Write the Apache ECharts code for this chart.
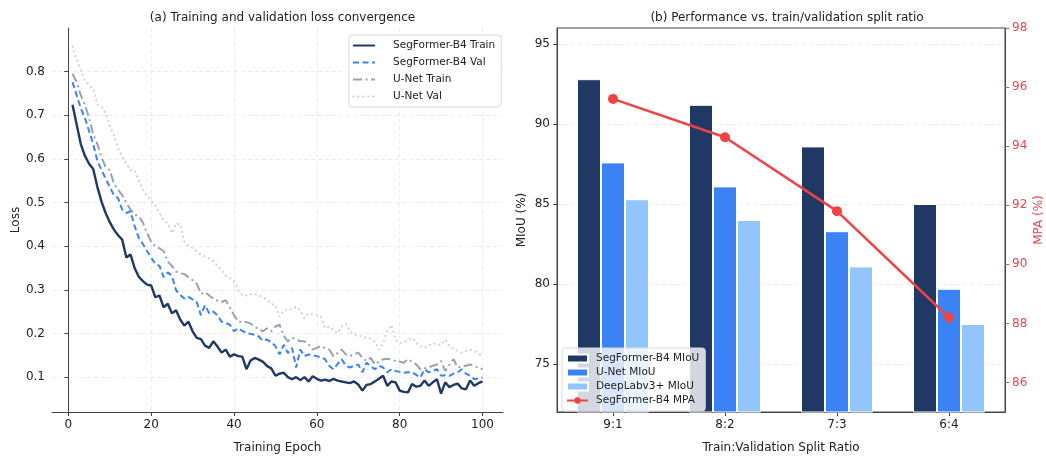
<!DOCTYPE html>
<html>
<head>
<meta charset="utf-8">
<script src="https://cdn.jsdelivr.net/npm/echarts@6/dist/echarts.min.js"></script>
<style>
html,body{margin:0;padding:0;background:#fff;}
#chart{width:1046px;height:459px;}
</style>
</head>
<body>
<div id="chart"></div>
<script>
// (a) loss curves, epochs 1..100
var epochs = [];
for (var i = 1; i <= 100; i++) epochs.push(i);

var segTrain = [0.724,0.679,0.634,0.607,0.589,0.577,0.536,0.502,0.476,0.455,
  0.438,0.425,0.415,0.374,0.381,0.350,0.330,0.320,0.312,0.310,
  0.283,0.287,0.260,0.268,0.246,0.253,0.232,0.218,0.227,0.205,
  0.190,0.187,0.172,0.167,0.182,0.170,0.156,0.163,0.147,0.152,
  0.148,0.147,0.118,0.138,0.144,0.140,0.135,0.125,0.120,0.103,
  0.108,0.110,0.100,0.095,0.100,0.093,0.100,0.090,0.102,0.096,
  0.092,0.094,0.091,0.096,0.092,0.090,0.088,0.086,0.090,0.083,
  0.069,0.082,0.084,0.090,0.096,0.103,0.080,0.090,0.088,0.069,
  0.066,0.065,0.084,0.078,0.080,0.092,0.080,0.088,0.095,0.062,
  0.088,0.077,0.082,0.085,0.074,0.072,0.092,0.080,0.086,0.090];

var segVal = [0.776,0.746,0.716,0.694,0.664,0.634,0.596,0.575,0.555,0.536,
  0.517,0.510,0.484,0.476,0.480,0.446,0.419,0.405,0.389,0.374,
  0.359,0.355,0.329,0.340,0.332,0.299,0.288,0.280,0.284,0.278,
  0.272,0.242,0.265,0.246,0.250,0.242,0.227,0.224,0.220,0.205,
  0.212,0.206,0.201,0.199,0.197,0.193,0.183,0.186,0.180,0.171,
  0.152,0.174,0.155,0.167,0.122,0.163,0.148,0.152,0.150,0.148,
  0.145,0.141,0.126,0.118,0.130,0.141,0.126,0.122,0.126,0.129,
  0.111,0.133,0.125,0.118,0.126,0.122,0.111,0.118,0.114,0.112,
  0.110,0.111,0.111,0.105,0.099,0.118,0.111,0.114,0.118,0.103,
  0.104,0.103,0.108,0.111,0.118,0.108,0.103,0.095,0.097,0.099];

var unetTrain = [0.795,0.776,0.746,0.724,0.694,0.656,0.634,0.604,0.581,0.574,
  0.544,0.529,0.517,0.499,0.484,0.472,0.469,0.454,0.430,0.410,
  0.400,0.395,0.389,0.365,0.355,0.342,0.338,0.336,0.329,0.322,
  0.314,0.291,0.295,0.287,0.280,0.275,0.272,0.276,0.260,0.242,
  0.227,0.227,0.226,0.223,0.215,0.210,0.205,0.212,0.205,0.216,
  0.220,0.195,0.182,0.190,0.187,0.182,0.182,0.175,0.163,0.167,
  0.171,0.166,0.163,0.148,0.155,0.163,0.152,0.148,0.152,0.156,
  0.144,0.137,0.144,0.129,0.136,0.141,0.142,0.140,0.137,0.135,
  0.133,0.141,0.135,0.129,0.118,0.120,0.122,0.126,0.129,0.137,
  0.114,0.128,0.141,0.122,0.124,0.126,0.129,0.125,0.122,0.118];

var unetVal = [0.858,0.828,0.802,0.780,0.769,0.761,0.724,0.720,0.705,0.675,
  0.655,0.625,0.605,0.589,0.574,0.574,0.550,0.530,0.515,0.506,
  0.493,0.476,0.460,0.452,0.430,0.453,0.449,0.410,0.400,0.396,
  0.388,0.381,0.377,0.372,0.366,0.355,0.345,0.332,0.327,0.320,
  0.300,0.287,0.287,0.290,0.290,0.287,0.283,0.278,0.268,0.265,
  0.238,0.253,0.253,0.256,0.261,0.253,0.235,0.246,0.244,0.242,
  0.238,0.212,0.216,0.208,0.201,0.216,0.222,0.205,0.197,0.197,
  0.192,0.190,0.188,0.182,0.163,0.178,0.205,0.220,0.186,0.178,
  0.180,0.185,0.190,0.178,0.170,0.167,0.172,0.178,0.175,0.174,
  0.186,0.171,0.165,0.160,0.156,0.160,0.163,0.160,0.155,0.148];

var epochTicks = [0, 20, 40, 60, 80, 100];
var lossTicks = [0.1, 0.2, 0.3, 0.4, 0.5, 0.6, 0.7, 0.8];

// (b) split ratio
var splits = ['9:1', '8:2', '7:3', '6:4'];
var segMiou = [92.8, 91.2, 88.6, 85.0];
var unetMiou = [87.6, 86.1, 83.3, 79.7];
var deeplabMiou = [85.3, 84.0, 81.1, 77.5];
var segMpa = [95.6, 94.3, 91.8, 88.2];
var miouTicks = [75, 80, 85, 90, 95];
var mpaTicks = [86, 88, 90, 92, 94, 96, 98];

function pairs(ys) {
  return ys.map(function (v, i) { return [epochs[i], v]; });
}

var font = 'DejaVu Sans';
var txt = '#222';
var red = '#e5484d';
var gridLine = { show: true, lineStyle: { color: '#e6e6e6', type: [4, 3], width: 0.8 } };

var myChart = echarts.init(document.getElementById('chart'));
myChart.setOption({
  animation: false,
  textStyle: { fontFamily: font, color: txt },
  title: [
    { text: '(a) Training and validation loss convergence', left: 277.5, top: 7, textAlign: 'center',
      textStyle: { fontFamily: font, fontSize: 12, fontWeight: 'normal', color: txt } },
    { text: '(b) Performance vs. train/validation split ratio', left: 782, top: 7, textAlign: 'center',
      textStyle: { fontFamily: font, fontSize: 12, fontWeight: 'normal', color: txt } }
  ],
  legend: [
    {
      left: 349, top: 35, orient: 'vertical', itemGap: 6, itemWidth: 22, itemHeight: 11,
      padding: [5, 6, 5, 3], borderColor: '#d9d9d9', borderWidth: 1, borderRadius: 3,
      backgroundColor: 'rgba(255,255,255,0.85)',
      itemStyle: { color: 'rgba(0,0,0,0)', borderColor: 'rgba(0,0,0,0)', borderWidth: 0 },
      textStyle: { fontFamily: font, fontSize: 10.5, color: txt, padding: [0, 0, 0, 13] },
      data: ['SegFormer-B4 Train', 'SegFormer-B4 Val', 'U-Net Train', 'U-Net Val']
    },
    {
      left: 562, top: 348, orient: 'vertical', itemGap: 3, itemWidth: 21, itemHeight: 8,
      padding: [5, 6, 5, 4], borderColor: '#d9d9d9', borderWidth: 1, borderRadius: 3,
      backgroundColor: 'rgba(255,255,255,0.8)',
      textStyle: { fontFamily: font, fontSize: 10.5, color: txt, padding: [0, 0, 0, 3] },
      data: [
        { name: 'SegFormer-B4 MIoU', icon: 'rect' },
        { name: 'U-Net MIoU', icon: 'rect' },
        { name: 'DeepLabv3+ MIoU', icon: 'rect' },
        'SegFormer-B4 MPA'
      ]
    }
  ],
  grid: [
    { left: 52, right: 543, top: 28, bottom: 39 },
    { left: 557, right: 39, top: 28, bottom: 39, show: true, borderColor: '#444', borderWidth: 1 }
  ],
  xAxis: [
    {
      gridIndex: 0, type: 'value', min: -3.95, max: 104.95,
      name: 'Training Epoch', nameLocation: 'middle', nameGap: 30,
      nameTextStyle: { fontFamily: font, fontSize: 12, color: txt },
      axisLine: { show: true, lineStyle: { color: '#444', width: 1 } },
      axisTick: { show: true, length: 4, lineStyle: { color: '#444' }, customValues: epochTicks },
      axisLabel: { fontFamily: font, fontSize: 12, color: txt, margin: 7, customValues: epochTicks },
      splitLine: gridLine
    },
    {
      gridIndex: 1, type: 'category', data: splits,
      name: 'Train:Validation Split Ratio', nameLocation: 'middle', nameGap: 30,
      nameTextStyle: { fontFamily: font, fontSize: 12, color: txt },
      axisLine: { show: true, lineStyle: { color: '#444', width: 1 } },
      axisTick: { show: true, alignWithLabel: true, length: 4, lineStyle: { color: '#444' } },
      axisLabel: { fontFamily: font, fontSize: 12, color: txt, margin: 7 },
      splitLine: { show: false }
    }
  ],
  yAxis: [
    {
      gridIndex: 0, type: 'value', min: 0.02, max: 0.90,
      name: 'Loss', nameLocation: 'middle', nameGap: 30, nameRotate: 90,
      nameTextStyle: { fontFamily: font, fontSize: 12, color: txt },
      axisLine: { show: true, lineStyle: { color: '#444', width: 1 } },
      axisTick: { show: true, length: 4, lineStyle: { color: '#444' }, customValues: lossTicks },
      axisLabel: { fontFamily: font, fontSize: 12, color: txt, margin: 7, customValues: lossTicks,
        formatter: function (v) { return v.toFixed(1); } },
      splitLine: gridLine
    },
    {
      gridIndex: 1, type: 'value', min: 72, max: 96,
      name: 'MIoU (%)', nameLocation: 'middle', nameGap: 29, nameRotate: 90,
      nameTextStyle: { fontFamily: font, fontSize: 12, color: txt },
      axisLine: { show: true, lineStyle: { color: '#444', width: 1 } },
      axisTick: { show: true, length: 4, lineStyle: { color: '#444' }, customValues: miouTicks },
      axisLabel: { fontFamily: font, fontSize: 12, color: txt, margin: 7, customValues: miouTicks },
      splitLine: gridLine
    },
    {
      gridIndex: 1, type: 'value', min: 85, max: 98, position: 'right',
      name: 'MPA (%)', nameLocation: 'middle', nameGap: 28, nameRotate: 90,
      nameTextStyle: { fontFamily: font, fontSize: 12, color: red },
      axisLine: { show: true, lineStyle: { color: '#444', width: 1 } },
      axisTick: { show: true, length: 4, lineStyle: { color: red }, customValues: mpaTicks },
      axisLabel: { fontFamily: font, fontSize: 12, color: red, margin: 7, customValues: mpaTicks },
      splitLine: { show: false }
    }
  ],
  series: [
    { name: 'SegFormer-B4 Train', type: 'line', xAxisIndex: 0, yAxisIndex: 0, data: pairs(segTrain),
      symbol: 'none', color: '#1f3864', lineStyle: { width: 2.4, color: '#1f3864' }, z: 5 },
    { name: 'SegFormer-B4 Val', type: 'line', xAxisIndex: 0, yAxisIndex: 0, data: pairs(segVal),
      symbol: 'none', color: '#3b82f6', lineStyle: { width: 2, color: '#3b82f6', type: [6, 3.5] }, z: 4 },
    { name: 'U-Net Train', type: 'line', xAxisIndex: 0, yAxisIndex: 0, data: pairs(unetTrain),
      symbol: 'none', color: '#94a3b8', lineStyle: { width: 2, color: '#94a3b8', type: [9, 3.5, 2, 3.5] }, z: 3 },
    { name: 'U-Net Val', type: 'line', xAxisIndex: 0, yAxisIndex: 0, data: pairs(unetVal),
      symbol: 'none', color: '#cbd5e1', lineStyle: { width: 2, color: '#cbd5e1', type: [0.5, 4.5], cap: 'round' }, z: 2 },

    { name: 'SegFormer-B4 MIoU', type: 'bar', xAxisIndex: 1, yAxisIndex: 1, data: segMiou,
      barWidth: 24, barGap: '0%', itemStyle: { color: '#1f3864', borderColor: '#fff', borderWidth: 1 } },
    { name: 'U-Net MIoU', type: 'bar', xAxisIndex: 1, yAxisIndex: 1, data: unetMiou,
      barWidth: 24, barGap: '0%', itemStyle: { color: '#3b82f6', borderColor: '#fff', borderWidth: 1 } },
    { name: 'DeepLabv3+ MIoU', type: 'bar', xAxisIndex: 1, yAxisIndex: 1, data: deeplabMiou,
      barWidth: 24, barGap: '0%', itemStyle: { color: '#93c5fd', borderColor: '#fff', borderWidth: 1 } },
    { name: 'SegFormer-B4 MPA', type: 'line', xAxisIndex: 1, yAxisIndex: 2, data: segMpa,
      symbol: 'circle', symbolSize: 10, color: '#ef4444',
      lineStyle: { width: 2.5, color: '#ef4444' }, itemStyle: { color: '#ef4444' }, z: 10 }
  ]
});
</script>
</body>
</html>
